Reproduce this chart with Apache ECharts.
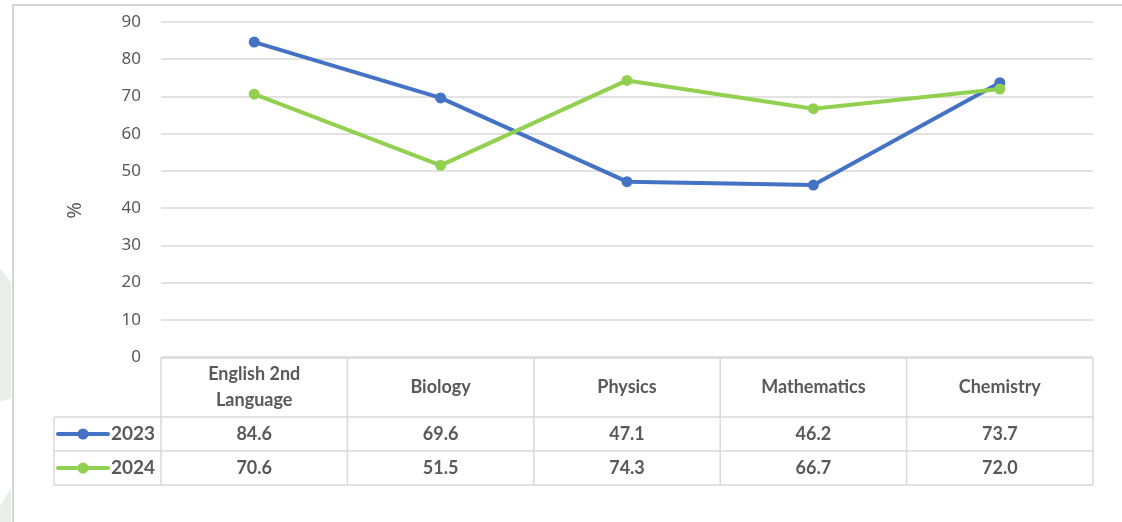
<!DOCTYPE html>
<html>
<head>
<meta charset="utf-8">
<script src="https://cdn.jsdelivr.net/npm/echarts@6/dist/echarts.min.js"></script>
<style>
    html, body { margin: 0; padding: 0; background: #fff; }
    #chart { width: 1122px; height: 522px; }
</style>
</head>
<body>
<div id="chart"></div>
<script>
    var subjects = ['English 2nd\nLanguage', 'Biology', 'Physics', 'Mathematics', 'Chemistry'];
    var years = ['2023', '2024'];
    var values2023 = [84.6, 69.6, 47.1, 46.2, 73.7];
    var values2024 = [70.6, 51.5, 74.3, 66.7, 72.0];
    var yTicks = { min: 0, max: 90, interval: 10 };
    var colors = ['#4472c4', '#92d050'];

    var textColor = '#595959';
    var lineColor = '#d9d9d9';
    var tableFont = 'Lato, "Noto Sans", sans-serif';

    var myChart = echarts.init(document.getElementById('chart'));

    myChart.setOption({
        animation: false,
        backgroundColor: '#fff',
        grid: { left: 161, right: 29, top: 22, bottom: 165 },
        xAxis: {
            type: 'category',
            data: subjects,
            boundaryGap: true,
            axisLine: { show: false },
            axisTick: { show: false },
            axisLabel: { show: false }
        },
        yAxis: {
            type: 'value',
            min: yTicks.min,
            max: yTicks.max,
            interval: yTicks.interval,
            name: '%',
            nameLocation: 'middle',
            nameGap: 76,
            nameTextStyle: { color: textColor, fontSize: 20, fontFamily: '"Noto Sans", sans-serif', padding: [0, 42, 0, 0] },
            axisLine: { show: false },
            axisTick: { show: false },
            axisLabel: { color: textColor, fontSize: 17, margin: 20, fontFamily: '"Noto Sans", sans-serif' },
            splitLine: { lineStyle: { color: lineColor, width: 1.5 } }
        },
        series: [
            {
                name: years[0],
                type: 'line',
                data: values2023,
                symbol: 'circle',
                symbolSize: 11,
                itemStyle: { color: colors[0] },
                lineStyle: { color: colors[0], width: 4 }
            },
            {
                name: years[1],
                type: 'line',
                data: values2024,
                symbol: 'circle',
                symbolSize: 11,
                itemStyle: { color: colors[1] },
                lineStyle: { color: colors[1], width: 4 }
            }
        ]
    });

    // data table under the plot, placed from the axis scales
    function buildTable() {
        var c0 = myChart.convertToPixel({ xAxisIndex: 0 }, 0);
        var c1 = myChart.convertToPixel({ xAxisIndex: 0 }, 1);
        var step = c1 - c0;
        var y0 = myChart.convertToPixel({ yAxisIndex: 0 }, 0) + 1;
        var headH = 59, rowH = 34;
        var legLeft = c0 - step / 2 - 107;
        var bounds = [];
        for (var i = 0; i <= subjects.length; i++) bounds.push(c0 - step / 2 + i * step);
        var xEnd = bounds[bounds.length - 1];
        var els = [];
        var ls = { stroke: lineColor, lineWidth: 1.5 };

        // frame + decoration
        els.push({ type: 'polygon', shape: { points: [[0, 268], [11, 283], [11, 398], [0, 402]] }, style: { fill: '#e8efea' }, silent: true });
        els.push({ type: 'polygon', shape: { points: [[11, 488], [11, 522], [0, 522], [0, 506]] }, style: { fill: '#e8efea' }, silent: true });
        els.push({ type: 'rect', shape: { x: 12, y: 4, width: 2, height: 518 }, style: { fill: '#d6d6d6' }, silent: true });
        els.push({ type: 'rect', shape: { x: 12, y: 4, width: 1110, height: 2 }, style: { fill: '#d6d6d6' }, silent: true });

        // horizontal lines
        els.push({ type: 'line', shape: { x1: bounds[0], y1: y0, x2: xEnd, y2: y0 }, style: ls });
        [headH, headH + rowH, headH + 2 * rowH].forEach(function (dy) {
            els.push({ type: 'line', shape: { x1: legLeft, y1: y0 + dy, x2: xEnd, y2: y0 + dy }, style: ls });
        });
        // vertical lines
        bounds.forEach(function (bx) {
            els.push({ type: 'line', shape: { x1: bx, y1: y0, x2: bx, y2: y0 + headH + 2 * rowH }, style: ls });
        });
        els.push({ type: 'line', shape: { x1: legLeft, y1: y0 + headH, x2: legLeft, y2: y0 + headH + 2 * rowH }, style: ls });

        // header texts
        subjects.forEach(function (s, i) {
            els.push({
                type: 'text',
                style: {
                    x: c0 + i * step, y: y0 + headH / 2, text: s,
                    align: 'center', verticalAlign: 'middle',
                    fill: textColor, font: 'bold 18px ' + tableFont, lineHeight: 26
                }
            });
        });

        // rows
        [values2023, values2024].forEach(function (vals, r) {
            var cy = y0 + headH + r * rowH + rowH / 2;
            els.push({ type: 'line', shape: { x1: legLeft + 4, y1: cy, x2: legLeft + 54, y2: cy }, style: { stroke: colors[r], lineWidth: 4, lineCap: 'round' } });
            els.push({ type: 'circle', shape: { cx: legLeft + 29, cy: cy, r: 5.5 }, style: { fill: colors[r] } });
            els.push({
                type: 'text',
                style: { x: legLeft + 57, y: cy, text: years[r], align: 'left', verticalAlign: 'middle', fill: textColor, font: 'bold 19px ' + tableFont }
            });
            vals.forEach(function (v, i) {
                els.push({
                    type: 'text',
                    style: { x: c0 + i * step, y: cy, text: v.toFixed(1), align: 'center', verticalAlign: 'middle', fill: textColor, font: 'bold 18px ' + tableFont }
                });
            });
        });

        myChart.setOption({ graphic: { elements: els } });
    }
    buildTable();
</script>
</body>
</html>
